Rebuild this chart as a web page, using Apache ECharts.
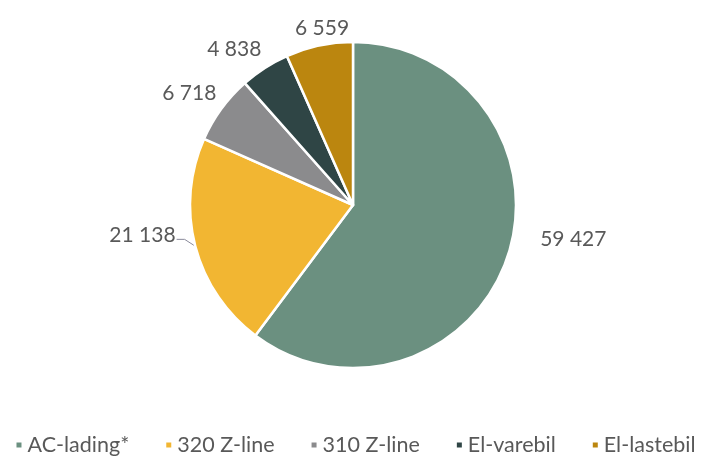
<!DOCTYPE html>
<html><head><meta charset="utf-8">
<script src="https://cdn.jsdelivr.net/npm/echarts@6/dist/echarts.min.js"></script>
<style>html,body{margin:0;padding:0;background:#fff}#c{width:710px;height:465px}</style>
</head><body><div id="c"></div>
<script>
const categories = ['AC-lading*', '320 Z-line', '310 Z-line', 'El-varebil', 'El-lastebil'];
const values = [59427, 21138, 6718, 4838, 6559];
const colors = ['#6b9080', '#f2b632', '#8b8b8d', '#2f4545', '#bb860f'];

// small label nudges (layout only)
const labelNudge = [[10, -20], [3, -14], [16, -10], [15, -10], [45, -8]];

const fmt = v => String(v).replace(/\B(?=(\d{3})+(?!\d))/g, ' ');
const chart = echarts.init(document.getElementById('c'));
chart.setOption({
  animation: false,
  color: colors,
  legend: {
    bottom: 4, left: 'center',
    icon: 'rect', itemWidth: 7, itemHeight: 7, itemGap: 35,
    textStyle: { fontFamily: 'Lato', fontSize: 21.5, color: '#595959' },
    data: categories
  },
  series: [{
    type: 'pie',
    center: [353, 205],
    radius: 163,
    startAngle: 90,
    clockwise: true,
    itemStyle: { borderColor: '#fff', borderWidth: 2.5 },
    label: {
      show: true, position: 'outside',
      formatter: p => fmt(p.value),
      fontFamily: 'Lato', fontSize: 21, color: '#595959'
    },
    labelLine: { show: false, length: 10, length2: 8, lineStyle: { color: '#8a8a9a', width: 1 } },
    labelLayout: p => {
      const [dx, dy] = labelNudge[p.dataIndex];
      const out = { dx, dy };
      if (p.labelLinePoints) {
        const r = p.labelRect;
        const start = p.labelLinePoints[0];
        const ex = r.x + dx + r.width + 1;
        const ey = r.y + dy + r.height * 0.72;
        out.labelLinePoints = [[start[0], start[1]], [ex + 8, ey], [ex, ey]];
      }
      return out;
    },
    data: categories.map((c, i) => ({
      name: c, value: values[i],
      labelLine: { show: i === 1 }
    }))
  }]
});
</script></body></html>
